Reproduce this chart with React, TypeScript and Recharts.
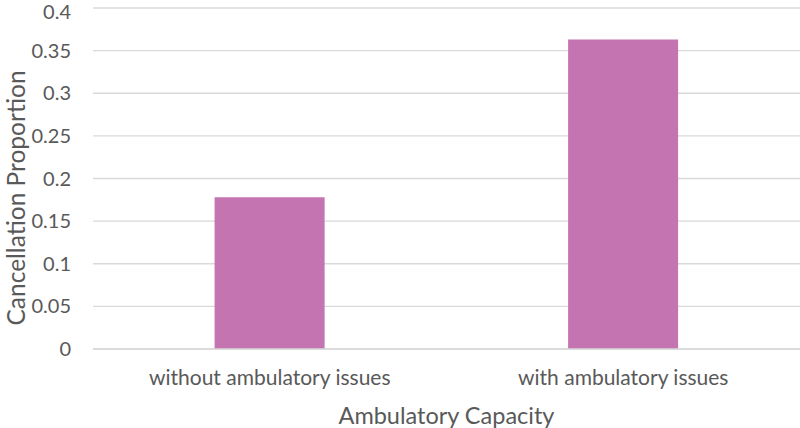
import React from "react";
import { BarChart, Bar, XAxis, YAxis, CartesianGrid } from "recharts";

const categories = ["without ambulatory issues", "with ambulatory issues"];
const cancellationProportion = [0.178, 0.363];
const yTicks = [0, 0.05, 0.1, 0.15, 0.2, 0.25, 0.3, 0.35, 0.4];

const data = categories.map((name, i) => ({ name, value: cancellationProportion[i] }));

const font = "Lato, 'Open Sans', sans-serif";
const textColor = "#595959";

// rotated y-axis title, sits a bit below the plot's middle like the original
const YTitle = () => {
  const cx = 15;
  const cy = 198;
  return (
    <text
      x={cx}
      y={cy}
      transform={`rotate(-90, ${cx}, ${cy})`}
      textAnchor="middle"
      dominantBaseline="central"
      fill={textColor}
      fontSize={24.5}
      fontFamily={font}
    >
      Cancellation Proportion
    </text>
  );
};

export default function App() {
  return (
    <div style={{ position: "absolute", left: 0, top: 0, background: "#fff" }}>
      <BarChart
        width={800}
        height={428}
        data={data}
        margin={{ top: 8, right: 0, left: 0, bottom: 0 }}
        barCategoryGap="34.4%"
      >
        <CartesianGrid vertical={false} stroke="#D9D9D9" strokeWidth={1.3} />
        <XAxis
          dataKey="name"
          height={79}
          tickLine={false}
          tickSize={0}
          tickMargin={21}
          axisLine={{ stroke: "#D9D9D9", strokeWidth: 1.3 }}
          tick={{ fill: textColor, fontSize: 21, fontFamily: font }}
          label={{
            value: "Ambulatory Capacity",
            position: "insideBottom",
            offset: 4,
            fill: textColor,
            fontSize: 23.5,
            fontFamily: font,
          }}
        />
        <YAxis
          type="number"
          domain={[0, 0.4]}
          ticks={yTicks}
          width={93}
          axisLine={false}
          tickLine={false}
          tickSize={0}
          tickMargin={22}
          tick={{ fill: textColor, fontSize: 20, fontFamily: font }}
          label={<YTitle />}
        />
        <Bar dataKey="value" fill="#C474B0" isAnimationActive={false} />
      </BarChart>
    </div>
  );
}
